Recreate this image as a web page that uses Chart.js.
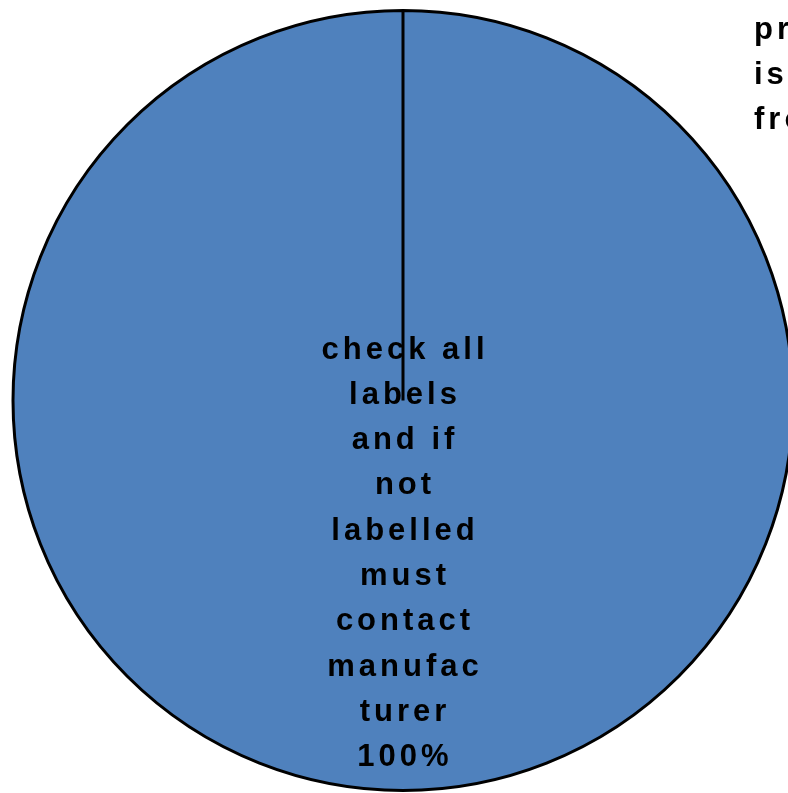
<!DOCTYPE html>
<html>
<head>
<meta charset="utf-8">
<script src="https://cdn.jsdelivr.net/npm/chart.js@4"></script>
<style>
  html, body { margin: 0; padding: 0; background: #fff; overflow: hidden; }
  #wrap { width: 806px; height: 793px; position: relative; }
</style>
</head>
<body>
<div id="wrap"><canvas id="pieCanvas"></canvas></div>
<script>
// donnees du graphique
const categories = [
  "check all labels and if not labelled must contact manufacturer",
  "product is free from",
];
const values = [100, 0];
// libelles tels qu'ils sont coupes sur l'image
const labelLines = [
  ["check all", "labels", "and if", "not", "labelled", "must", "contact", "manufac", "turer"],
  ["product", "is free", "from"],
];
const showPercent = [true, false];

const pieCanvas = document.getElementById("pieCanvas");

const total = values.reduce((a, b) => a + b, 0);

// petit plugin pour ecrire les etiquettes
const sliceLabels = {
  id: "sliceLabels",
  afterDatasetsDraw(chart) {
    const ctx = chart.ctx;
    const meta = chart.getDatasetMeta(0);
    ctx.save();
    ctx.fillStyle = "#000";
    ctx.font = "bold 31px 'Liberation Sans', Arial, sans-serif";
    ctx.letterSpacing = "4px";
    ctx.textBaseline = "middle";
    meta.data.forEach((arc, i) => {
      let lines = labelLines[i].slice();
      if (showPercent[i]) {
        lines.push(Math.round((values[i] / total) * 100) + "%");
      }
      const lineH = 45.3;
      if (values[i] === total) {
        // part unique : texte au centre
        ctx.textAlign = "center";
        const y0 = 350;
        lines.forEach((t, k) => {
          ctx.fillText(t, arc.x + 2, y0 + k * lineH);
        });
      } else {
        // part vide : etiquette en haut a droite
        ctx.textAlign = "left";
        lines.forEach((t, k) => {
          ctx.fillText(t, 754, 30 + k * lineH);
        });
      }
    });
    ctx.restore();
  },
};

const pieChart = new Chart(pieCanvas, {
  type: "pie",
  data: {
    labels: categories,
    datasets: [
      {
        data: values,
        backgroundColor: ["#4F81BD", "#C0504D"],
        borderColor: "#000",
        borderWidth: 3,
      },
    ],
  },
  options: {
    responsive: true,
    maintainAspectRatio: false,
    animation: false,
    layout: { padding: { top: 9, bottom: 1, left: 0, right: 0 } },
    plugins: {
      legend: { display: false },
      tooltip: { enabled: false },
    },
  },
  plugins: [sliceLabels],
});
</script>
</body>
</html>
